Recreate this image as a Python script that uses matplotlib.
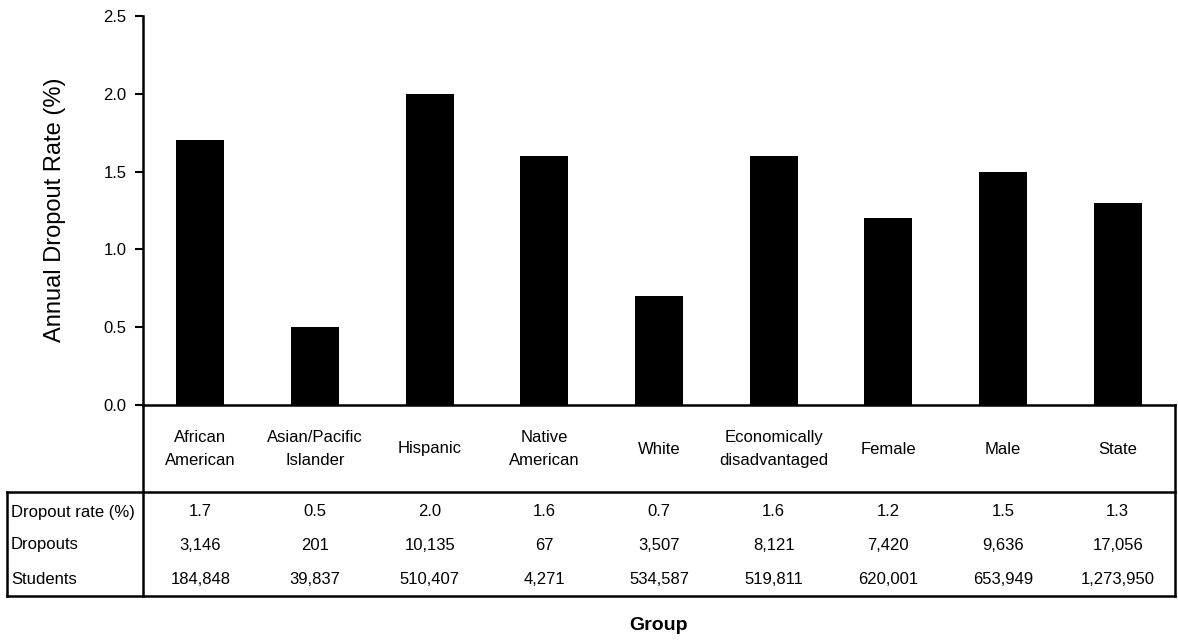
import matplotlib
matplotlib.use("Agg")
import matplotlib.pyplot as plt
from matplotlib.transforms import blended_transform_factory

plt.rcParams['font.family'] = ['Liberation Sans', 'DejaVu Sans']

groups = ["African\nAmerican", "Asian/Pacific\nIslander", "Hispanic", "Native\nAmerican",
          "White", "Economically\ndisadvantaged", "Female", "Male", "State"]
rates = [1.7, 0.5, 2.0, 1.6, 0.7, 1.6, 1.2, 1.5, 1.3]
dropouts = ["3,146", "201", "10,135", "67", "3,507", "8,121", "7,420", "9,636", "17,056"]
students = ["184,848", "39,837", "510,407", "4,271", "534,587", "519,811", "620,001",
            "653,949", "1,273,950"]
row_labels = ["Dropout rate (%)", "Dropouts", "Students"]
yticks = [0.0, 0.5, 1.0, 1.5, 2.0, 2.5]

W, H = 1178, 641
fig = plt.figure(figsize=(W / 100, H / 100), dpi=100)
# axes box in pixels: x 143..1175, y 16..405
ax = fig.add_axes([143 / W, (H - 405) / H, (1175 - 143) / W, (405 - 16) / H])

x = range(len(groups))
ax.bar(x, rates, width=0.42, color="black")
ax.set_xlim(-0.5, len(groups) - 0.5)
ax.set_ylim(0, 2.5)
ax.set_yticks(yticks)
ax.set_yticklabels(["%.1f" % v for v in yticks], fontsize=12)
ax.set_xticks([])
ax.tick_params(axis="y", direction="out", length=6, width=1.5, pad=6)
for s in ["top", "right"]:
    ax.spines[s].set_visible(False)
ax.spines["left"].set_linewidth(1.8)
ax.spines["bottom"].set_linewidth(1.8)

# table under the axis
ah = 389.0
aw = 1032.0
y_head = -87 / ah
y_bot = -191 / ah
x_left = -136 / aw
tr = blended_transform_factory(ax.transData, ax.transAxes)
lw = 1.8
ax.plot([0, 0], [0, y_bot], transform=ax.transAxes, color="black", lw=lw, clip_on=False)
ax.plot([1, 1], [0, y_bot], transform=ax.transAxes, color="black", lw=lw, clip_on=False)
ax.plot([x_left, 1], [y_head, y_head], transform=ax.transAxes, color="black", lw=lw, clip_on=False)
ax.plot([x_left, 1], [y_bot, y_bot], transform=ax.transAxes, color="black", lw=lw, clip_on=False)
ax.plot([x_left, x_left], [y_head, y_bot], transform=ax.transAxes, color="black", lw=lw, clip_on=False)

row_y = [-107 / ah, -140 / ah, -175 / ah]
for i, g in enumerate(groups):
    ax.text(i, -44 / ah, g, transform=tr, ha="center", va="center", fontsize=12,
            linespacing=1.7)
    vals = ["%.1f" % rates[i], dropouts[i], students[i]]
    for v, yy in zip(vals, row_y):
        ax.text(i, yy, v, transform=tr, ha="center", va="center", fontsize=12)
for lab, yy in zip(row_labels, row_y):
    ax.text(x_left + 4 / aw, yy, lab, transform=ax.transAxes, ha="left", va="center",
            fontsize=12)

ax.text(0.5, -221 / ah, "Group", transform=ax.transAxes, ha="center", va="center",
        fontsize=14, fontweight="bold")
fig.text(55 / W, 1 - 210 / H, "Annual Dropout Rate (%)", rotation=90, ha="center",
         va="center", fontsize=17)

fig.savefig("out.png", dpi=100)
